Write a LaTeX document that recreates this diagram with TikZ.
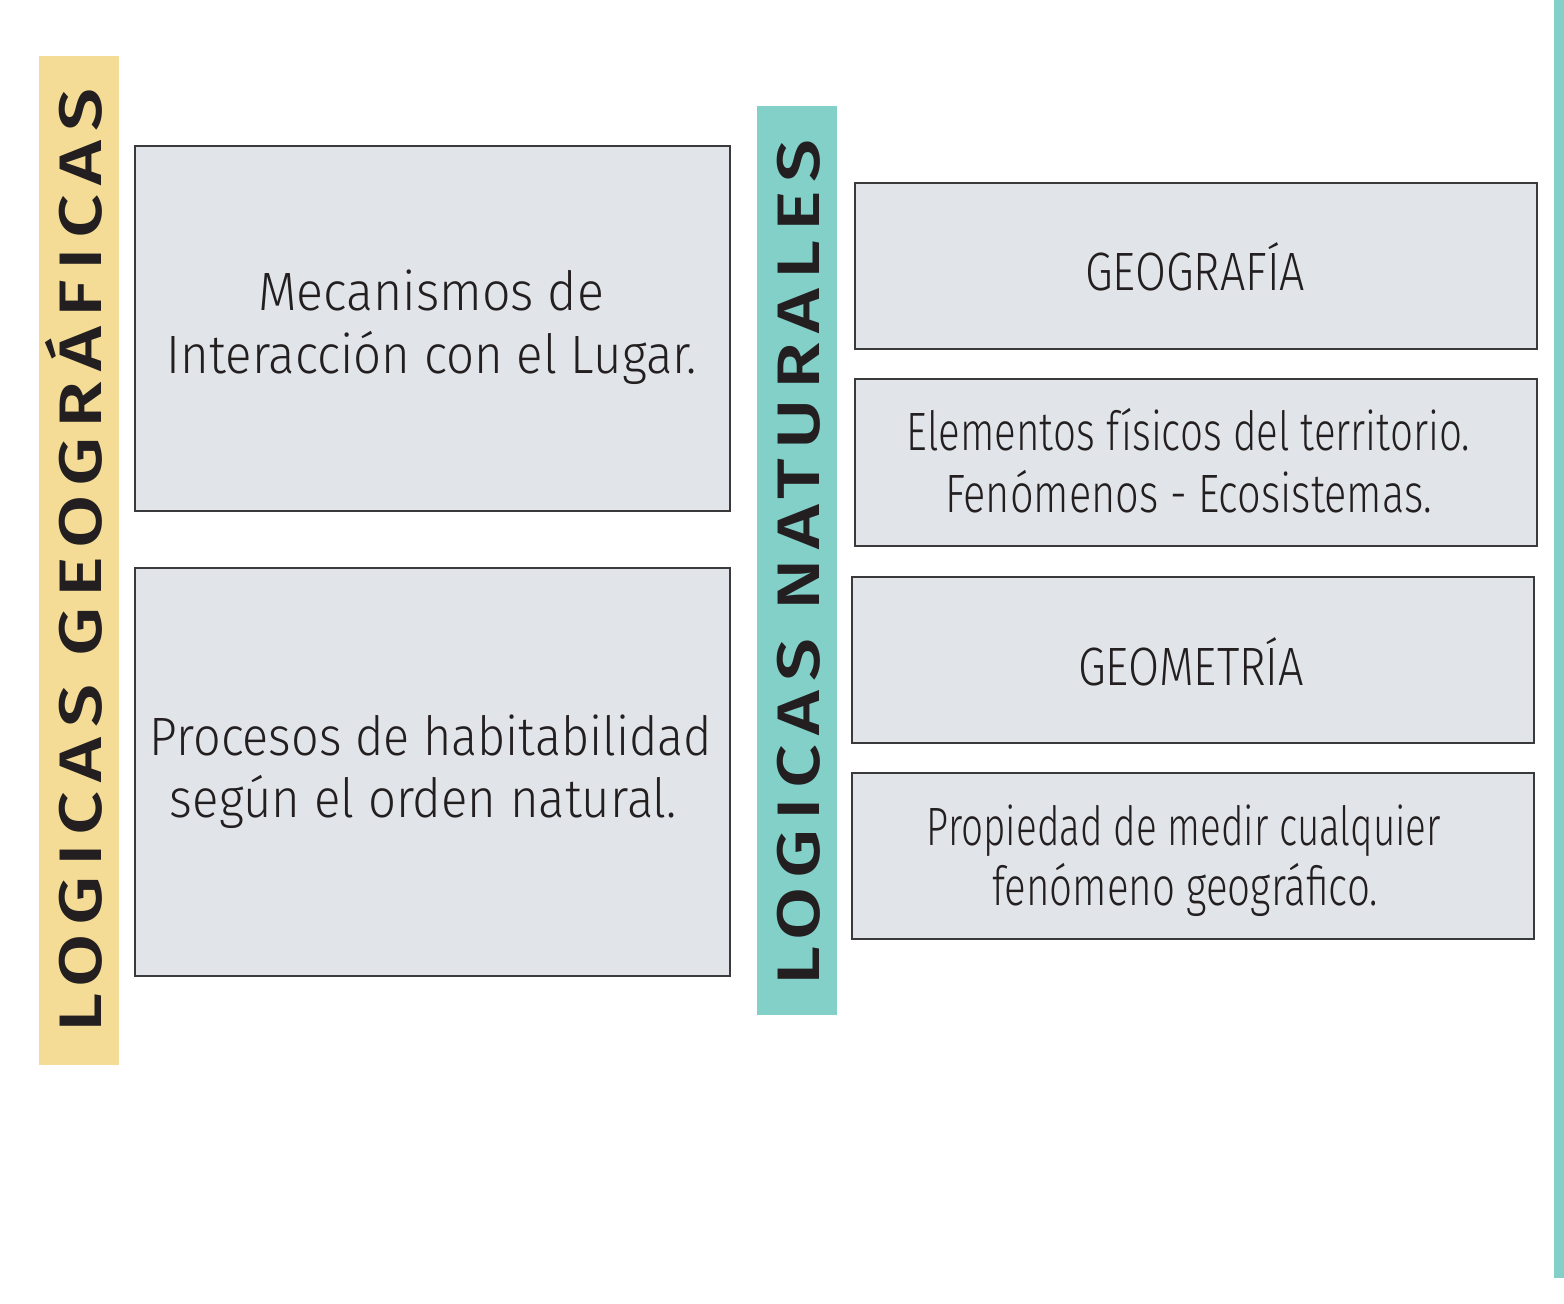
\documentclass[tikz,border=0pt]{standalone}
\usepackage{fontspec}
\usepackage{graphicx}
\setmainfont{Fira Sans}
\newfontfamily\lightfont{Fira Sans Light}
\newfontfamily\barfont[LetterSpace=12]{Fira Sans Medium}
\definecolor{boxfill}{HTML}{E1E4E8}
\definecolor{boxline}{HTML}{3A3A3C}
\definecolor{ink}{HTML}{231F20}
\definecolor{sand}{HTML}{F5DC96}
\definecolor{teal}{HTML}{83D0C9}
\newcommand\fitw[2]{\resizebox{#1}{\height}{#2}}
\begin{document}
\begin{tikzpicture}[x=0.5pt,y=-0.5pt,
  box/.style={draw=boxline, line width=0.75pt, fill=boxfill, inner sep=0pt, anchor=north west},
  bar/.style={fill=#1, draw=none, inner sep=0pt, anchor=north west},
  lefttxt/.style={text=ink, inner sep=0pt, anchor=base, font=\lightfont\fontsize{27}{31}\selectfont},
  righttxt/.style={text=ink, inner sep=0pt, anchor=base, font=\lightfont\fontsize{27}{31}\selectfont},
  bartxt/.style={text=ink, inner sep=0pt, anchor=base west, rotate=90, font=\barfont\fontsize{30}{34}\selectfont}]
\useasboundingbox (0,0) rectangle (1564,1303);
\fill[white] (0,0) rectangle (1564,1303);
% bars
\node[bar=sand, minimum width=40pt, minimum height=504.5pt] (ybar) at (39,56) {};
\node[bar=teal, minimum width=40pt, minimum height=454.5pt] (tbar) at (757,106) {};
\node[bar=teal, minimum width=5pt, minimum height=639pt] (edge) at (1554,0) {};
\node[bartxt] (ytxt) at (101,1033) {\fitw{472pt}{LOGICAS GEOGRÁFICAS}};
\node[bartxt] (ttxt) at (819,986) {\fitw{423pt}{LOGICAS NATURALES}};
% left boxes
\node[box, minimum width=297.5pt, minimum height=182.5pt] (l1) at (134,145) {};
\node[box, minimum width=297.5pt, minimum height=204pt] (l2) at (134,567) {};
% right boxes
\node[box, minimum width=341pt, minimum height=83pt] (r1) at (854,182) {};
\node[box, minimum width=341pt, minimum height=83.5pt] (r2) at (854,378) {};
\node[box, minimum width=341pt, minimum height=83pt] (r3) at (851,576) {};
\node[box, minimum width=341pt, minimum height=83pt] (r4) at (851,772) {};
% left texts
\node[lefttxt] (l1a) at (431,310) {\fitw{173pt}{Mecanismos de}};
\node[lefttxt] (l1b) at (432,373) {\fitw{265pt}{Interacción con el Lugar.}};
\node[lefttxt] (l2a) at (431,755) {\fitw{281pt}{Procesos de habitabilidad}};
\node[lefttxt] (l2b) at (423.5,817) {\fitw{253.5pt}{según el orden natural.}};
% right texts
\node[righttxt] (r1a) at (1195,290) {\fitw{110pt}{GEOGRAFÍA}};
\node[righttxt] (r2a) at (1188.5,450) {\fitw{281.5pt}{Elementos físicos del territorio.}};
\node[righttxt] (r2b) at (1188.5,512) {\fitw{243.5pt}{Fenómenos - Ecosistemas.}};
\node[righttxt] (r3a) at (1191,685) {\fitw{113pt}{GEOMETRÍA}};
\node[righttxt] (r4a) at (1184,845) {\fitw{257pt}{Propiedad de medir cualquier}};
\node[righttxt] (r4b) at (1185,905) {\fitw{193pt}{fenómeno geográfico.}};
\end{tikzpicture}
\end{document}
